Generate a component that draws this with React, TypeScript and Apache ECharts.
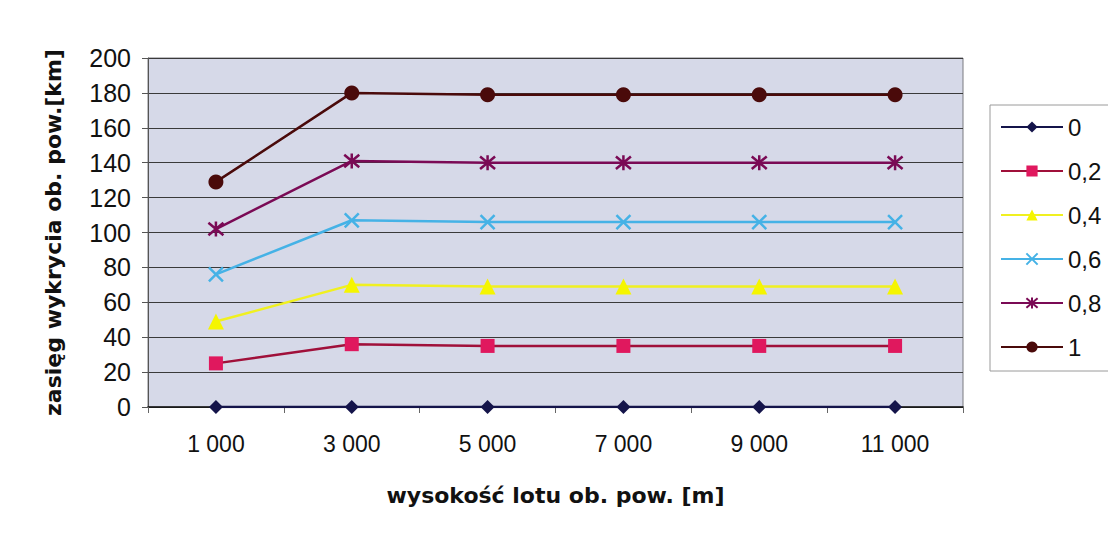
import React, { useEffect, useRef } from "react";
import * as echarts from "echarts";

const categories = ["1 000", "3 000", "5 000", "7 000", "9 000", "11 000"];
const seriesNames = ["0", "0,2", "0,4", "0,6", "0,8", "1"];
const s0 = [0, 0, 0, 0, 0, 0];
const s02 = [25, 36, 35, 35, 35, 35];
const s04 = [49, 70, 69, 69, 69, 69];
const s06 = [76, 107, 106, 106, 106, 106];
const s08 = [102, 141, 140, 140, 140, 140];
const s1 = [129, 180, 179, 179, 179, 179];
const yTicks = [0, 20, 40, 60, 80, 100, 120, 140, 160, 180, 200];

const FONT = "Liberation Sans, Arial, sans-serif";
const TITLE_FONT = "DejaVu Sans, Liberation Sans, sans-serif";

export default function App() {
  const ref = useRef<HTMLDivElement>(null);
  useEffect(() => {
    const chart = echarts.init(ref.current!, undefined, { renderer: "svg" });
    const X = "path://M0,0L10,10M10,0L0,10";
    const STAR = "path://M0,0L10,10M10,0L0,10M5,-1L5,11";
    const mk = (
      name: string,
      data: number[],
      lineColor: string,
      symbol: string,
      size: number,
      fill: string,
      stroke?: boolean
    ) => ({
      name,
      type: "line",
      data,
      symbol,
      symbolSize: size,
      showAllSymbol: true,
      lineStyle: { color: lineColor, width: 2.5 },
      itemStyle: stroke
        ? { color: "none", borderColor: fill, borderWidth: 2.5 }
        : { color: fill, borderColor: fill, borderWidth: 0 },
      emphasis: { disabled: true },
      z: 3,
    });
    chart.setOption({
      animation: false,
      backgroundColor: "#ffffff",
      textStyle: { fontFamily: FONT },
      grid: {
        left: 148,
        right: 145,
        top: 58,
        bottom: 134,
        show: true,
        backgroundColor: "#d6d9e8",
        borderColor: "#7a7a80",
        borderWidth: 1,
      },
      legend: {
        orient: "vertical",
        left: 990,
        top: 105,
        padding: [10, 12, 12, 10],
        borderColor: "#9a9a9a",
        borderWidth: 1,
        itemWidth: 62,
        itemHeight: 14,
        itemGap: 20,
        textStyle: { fontSize: 24, color: "#111", fontFamily: FONT },
        data: seriesNames,
      },
      xAxis: {
        type: "category",
        data: categories,
        boundaryGap: true,
        name: "wysokość lotu ob. pow. [m]",
        nameLocation: "middle",
        nameGap: 77,
        nameTextStyle: { fontSize: 22, fontWeight: "bold", color: "#111", fontFamily: TITLE_FONT },
        axisLine: { show: true, lineStyle: { color: "#111", width: 1.5 } },
        axisTick: { show: true, alignWithLabel: false, length: 6, lineStyle: { color: "#666" } },
        axisLabel: { fontSize: 23, color: "#111", margin: 25, fontFamily: FONT },
        splitLine: { show: false },
      },
      yAxis: {
        type: "value",
        min: 0,
        max: 200,
        interval: 20,
        name: "zasięg wykrycia ob. pow.[km]",
        nameLocation: "middle",
        nameGap: 84,
        nameTextStyle: { fontSize: 22, fontWeight: "bold", color: "#111", fontFamily: TITLE_FONT },
        axisLine: { show: true, lineStyle: { color: "#555" } },
        axisTick: { show: true, length: 6, lineStyle: { color: "#555" } },
        axisLabel: {
          fontSize: 25,
          color: "#111",
          margin: 17,
          fontFamily: FONT,
          formatter: (v: number) => (yTicks.includes(v) ? String(v) : ""),
        },
        splitLine: { show: true, lineStyle: { color: "#3a3a3a", width: 1 } },
      },
      series: [
        mk("0", s0, "#14144a", "diamond", 14, "#14144a"),
        mk("0,2", s02, "#a0103a", "rect", 14, "#e0185e"),
        mk("0,4", s04, "#f0f020", "triangle", 16, "#f5f500"),
        mk("0,6", s06, "#45b2e6", X, 14, "#45b2e6", true),
        mk("0,8", s08, "#7a0a55", STAR, 15, "#7a0a55", true),
        mk("1", s1, "#4a0a0a", "circle", 15, "#4a0a0a"),
      ],
    });
    return () => chart.dispose();
  }, []);
  return (
    <div
      ref={ref}
      style={{ position: "fixed", left: 0, top: 0, width: 1108, height: 541 }}
    />
  );
}
